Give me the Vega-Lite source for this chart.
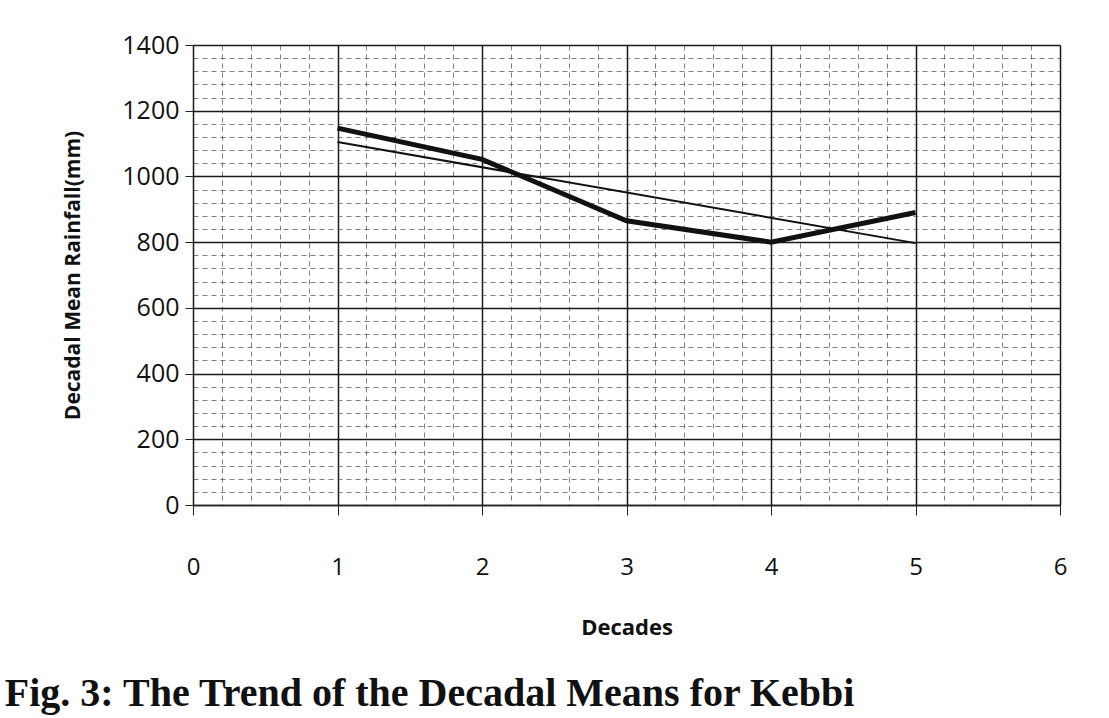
{
  "$schema": "https://vega.github.io/schema/vega-lite/v6.json",
  "autosize": {"type": "none"},
  "width": 867,
  "height": 460,
  "padding": {"left": 193, "top": 45, "right": 49, "bottom": 213},
  "background": "white",
  "datasets": {
    "means": [
      {"decade": 1, "rainfall": 1147},
      {"decade": 2, "rainfall": 1052},
      {"decade": 3, "rainfall": 865},
      {"decade": 4, "rainfall": 800},
      {"decade": 5, "rainfall": 890}
    ],
    "trend": [
      {"decade": 1, "rainfall": 1105},
      {"decade": 5, "rainfall": 797}
    ]
  },
  "title": {
    "text": "Fig. 3: The Trend of the Decadal Means for Kebbi",
    "orient": "bottom",
    "anchor": "start",
    "frame": "bounds",
    "font": "Liberation Serif",
    "fontSize": 40,
    "fontWeight": "bold",
    "color": "#111",
    "offset": 36,
    "dx": -58
  },
  "encoding": {
    "x": {
      "field": "decade", "type": "quantitative",
      "scale": {"domain": [0, 6], "nice": false, "zero": false},
      "axis": {
        "title": "Decades",
        "titleFont": "Open Sans", "titleFontSize": 22, "titleFontWeight": "bold", "titleColor": "#111",
        "titlePadding": 38,
        "values": [0,0.2,0.4,0.6,0.8,1,1.2,1.4,1.6,1.8,2,2.2,2.4,2.6,2.8,3,3.2,3.4,3.6,3.8,4,4.2,4.4,4.6,4.8,5,5.2,5.4,5.6,5.8,6],
        "labelExpr": "abs(datum.value - round(datum.value)) < 0.001 ? format(datum.value, 'd') : ''",
        "labelFont": "Open Sans", "labelFontSize": 24, "labelColor": "#111",
        "labelPadding": 40,
        "labelFlush": false,
        "domain": true, "domainColor": "#222", "domainWidth": 1.5,
        "ticks": true,
        "tickColor": "#222",
        "tickSize": 10,
        "tickOpacity": {"condition": {"test": "abs(datum.value - round(datum.value)) < 0.001", "value": 1}, "value": 0},
        "grid": true,
        "gridColor": {"condition": {"test": "abs(datum.value - round(datum.value)) < 0.001", "value": "#1a1a1a"}, "value": "#4a4660"},
        "gridWidth": {"condition": {"test": "abs(datum.value - round(datum.value)) < 0.001", "value": 1.5}, "value": 1},
        "gridDash": {"condition": {"test": "abs(datum.value - round(datum.value)) < 0.001", "value": []}, "value": [5, 4]},
        "gridOpacity": {"condition": {"test": "abs(datum.value - round(datum.value)) < 0.001", "value": 1}, "value": 0.7}
      }
    },
    "y": {
      "field": "rainfall", "type": "quantitative",
      "scale": {"domain": [0, 1400], "nice": false},
      "axis": {
        "title": "Decadal Mean Rainfall(mm)",
        "titleFont": "Open Sans", "titleFontSize": 21, "titleFontWeight": "bold", "titleColor": "#111",
        "titlePadding": 38,
        "values": [0,40,80,120,160,200,240,280,320,360,400,440,480,520,560,600,640,680,720,760,800,840,880,920,960,1000,1040,1080,1120,1160,1200,1240,1280,1320,1360,1400],
        "labelExpr": "datum.value % 200 === 0 ? datum.label : ''",
        "format": "d",
        "labelFont": "Open Sans", "labelFontSize": 25, "labelColor": "#111",
        "labelPadding": 6,
        "labelFlush": false,
        "domain": false,
        "ticks": true,
        "tickColor": "#222",
        "tickSize": 8,
        "tickOpacity": {"condition": {"test": "datum.value % 200 === 0", "value": 1}, "value": 0},
        "grid": true,
        "gridColor": {"condition": {"test": "datum.value % 200 === 0", "value": "#1a1a1a"}, "value": "#4a4660"},
        "gridWidth": {"condition": {"test": "datum.value % 200 === 0", "value": 1.5}, "value": 1},
        "gridDash": {"condition": {"test": "datum.value % 200 === 0", "value": []}, "value": [5, 4]},
        "gridOpacity": {"condition": {"test": "datum.value % 200 === 0", "value": 1}, "value": 0.7}
      }
    }
  },
  "layer": [
    {
      "data": {"name": "means"},
      "mark": {"type": "line", "color": "#111", "strokeWidth": 5, "strokeJoin": "miter"}
    },
    {
      "data": {"name": "trend"},
      "mark": {"type": "line", "color": "#111", "strokeWidth": 2}
    }
  ],
  "config": {
    "view": {"stroke": null}
  }
}
